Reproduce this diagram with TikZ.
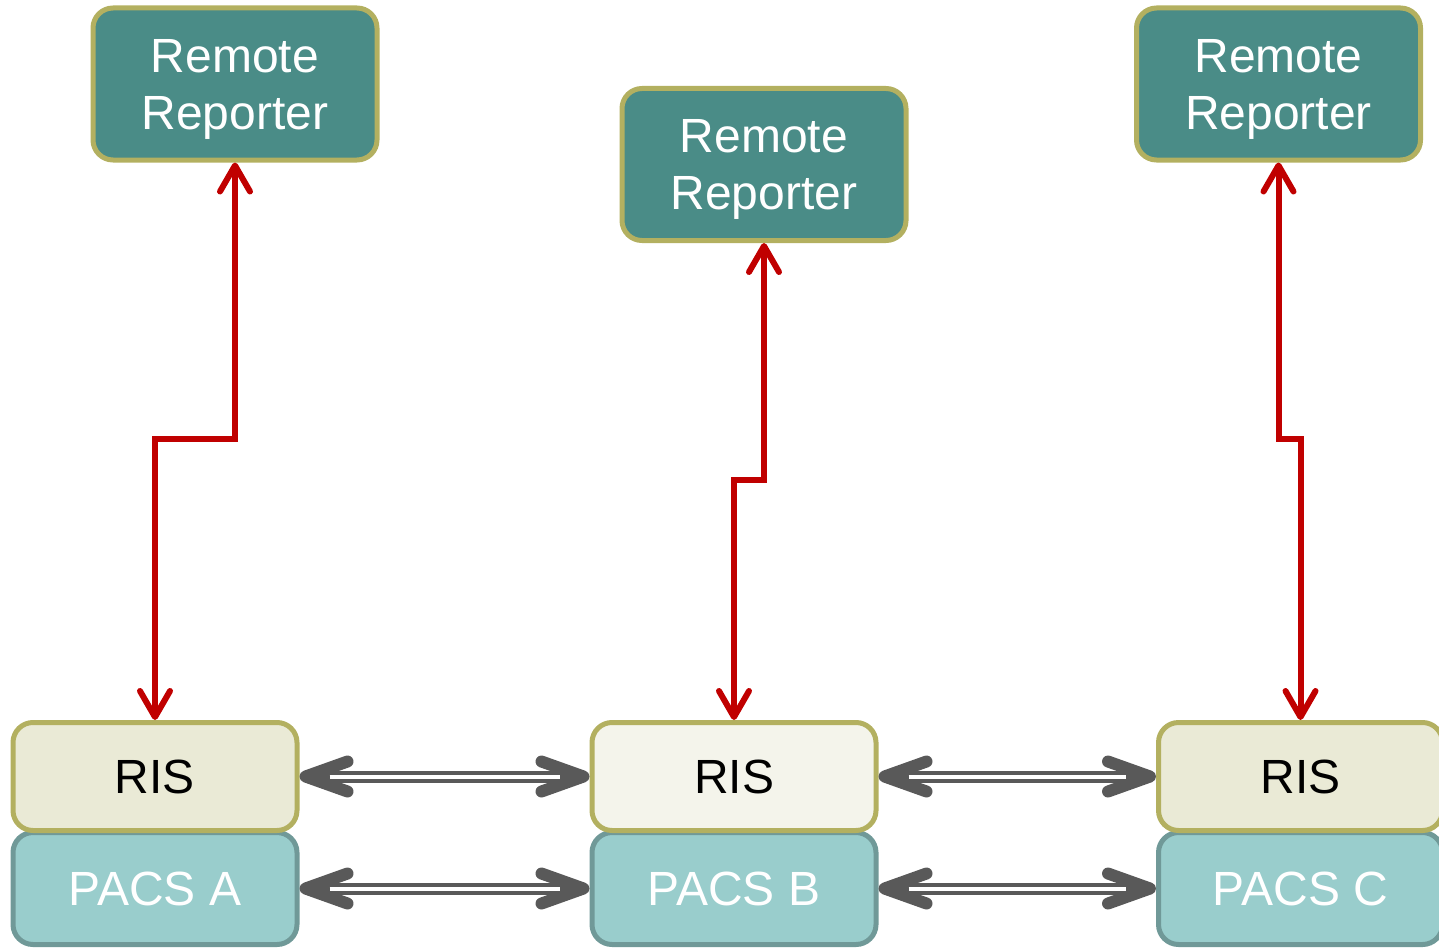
\documentclass[tikz,border=0pt]{standalone}
\usepackage{fontspec}
\setmainfont{Liberation Sans}
\usetikzlibrary{arrows.meta}
\definecolor{rrteal}{RGB}{74,140,135}
\definecolor{olivebd}{RGB}{179,176,96}
\definecolor{risfill}{RGB}{234,234,214}
\definecolor{rislight}{RGB}{244,244,235}
\definecolor{pacsfill}{RGB}{153,205,204}
\definecolor{pacsbd}{RGB}{112,153,152}
\definecolor{linkred}{RGB}{192,0,0}
\definecolor{linkgray}{RGB}{89,89,89}
\begin{document}
\begin{tikzpicture}[x=0.5pt,y=-0.5pt,font=\fontsize{24}{28.5}\selectfont,
	box/.style={line width=2.5pt,rounded corners=10pt,minimum width=142pt,align=center},
	rr/.style={box,draw=olivebd,fill=rrteal,text=white,minimum height=76pt,text depth=0pt},
	ris/.style={box,draw=olivebd,fill=risfill,minimum height=54pt},
	pacs/.style={box,draw=pacsbd,fill=pacsfill,text=white,minimum height=56pt},
	redlink/.style={draw=linkred,line width=3pt,
		{Straight Barb[length=13pt,width=15pt,round]}-{Straight Barb[length=13pt,width=15pt,round]}},
	graylink/.style={draw=linkgray,line width=6pt,
		{Straight Barb[length=21pt,width=15pt,round]}-{Straight Barb[length=21pt,width=15pt,round]},
		postaction={draw=white,line width=2pt,-,shorten <=15pt,shorten >=15pt}}]
\useasboundingbox (0,0) rectangle (1439,947);
%			\draw[dashed,thin,gray] (0,0) grid[step=100] (1439,947);
\node[rr] (rrA) at (235,84) {Remote\\Reporter};
\node[rr] (rrB) at (764,164.5) {Remote\\Reporter};
\node[rr] (rrC) at (1278.5,84) {Remote\\Reporter};
\node[pacs] (pacsA) at (155,888.5) {PACS A};
\node[pacs] (pacsB) at (734,888.5) {PACS B};
\node[pacs] (pacsC) at (1300.5,888.5) {PACS C};
\node[ris] (risA) at (155,776.5) {RIS};
\node[ris,fill=rislight] (risB) at (734,776.5) {RIS};
\node[ris] (risC) at (1300.5,776.5) {RIS};
\draw[redlink] (risA.north) -- ++(0,-281) -| (rrA.south);
\draw[redlink] (risB.north) -- ++(0,-240) -| (rrB.south);
\draw[redlink] (risC.north) -- ++(0,-281) -| (rrC.south);
\foreach \a/\b in {A/B,B/C}{
	\draw[graylink] (ris\a.east) -- (ris\b.west);
	\draw[graylink] (pacs\a.east) -- (pacs\b.west);
}
\end{tikzpicture}
\end{document}
